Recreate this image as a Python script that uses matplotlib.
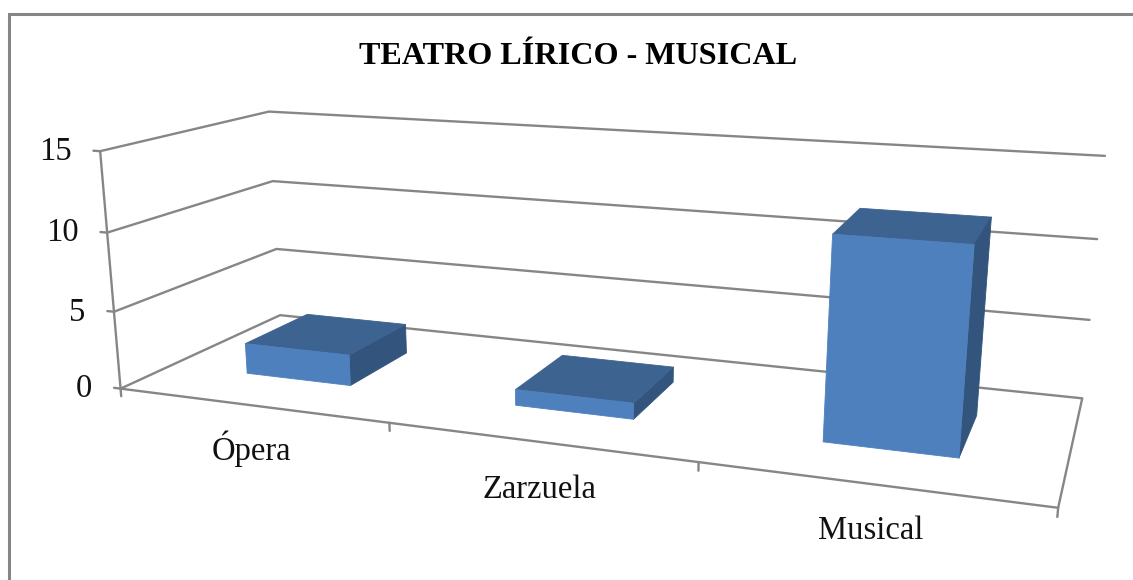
import numpy as np
import matplotlib
matplotlib.use("Agg")
import matplotlib.pyplot as plt
from mpl_toolkits.mplot3d import Axes3D  # noqa: F401

categories = ["Ópera", "Zarzuela", "Musical"]
values = [2, 1, 12]
yticks = [0, 5, 10, 15]
title = "TEATRO LÍRICO - MUSICAL"

W, PH = 1133, 580
GREY = "#868686"
FRONT, TOP, SIDE = "#4E80BD", "#3D6390", "#32547D"
plt.rcParams["font.family"] = ["Liberation Serif"]

# Camera: projective fit of (category axis, depth, value) to image position
world = np.array([
    (0, 0, 0), (0, 0, 5), (0, 0, 10), (0, 0, 15),
    (0, 1, 0), (0, 1, 5), (0, 1, 10), (0, 1, 15),
    (3, 1, 0), (3, 1, 5), (3, 1, 10), (3, 1, 15),
    (3, 0, 0)], float)
image = np.array([
    (120, 389), (114, 312), (108, 232), (100, 151),
    (280, 315), (277, 249), (273, 181), (268, 112),
    (1082, 398), (1090, 320), (1097, 239), (1105, 156),
    (1058, 508)], float)
rows, rhs = [], []
for (X, Y, Z), (u, v) in zip(world, image):
    rows.append([X, Y, Z, 1, 0, 0, 0, 0, -u*X, -u*Y, -u*Z]); rhs.append(u)
    rows.append([0, 0, 0, 0, X, Y, Z, 1, -v*X, -v*Y, -v*Z]); rhs.append(v)
H = np.append(np.linalg.lstsq(np.array(rows), np.array(rhs), rcond=None)[0], 1).reshape(3, 4)


def to_image(X, Y, Z):
    q = H @ [X, Y, Z, 1]
    return q[0] / q[2], q[1] / q[2]


fig = plt.figure(figsize=(W/100, PH/100), dpi=100, facecolor="white")
ax = fig.add_axes([0, 0, 1, 1], projection="3d", proj_type="ortho")
ax.set_axis_off()
ax.patch.set_alpha(0)
ax.computed_zorder = False
ax.apply_aspect = lambda position=None: None


def camera():
    to_display = np.array([[1, 0, 0], [0, -1, PH], [0, 0, 1]], float)
    to_data = ax.transData.inverted().get_matrix()
    P = to_data @ to_display @ H
    depth = np.array([0.0, 1.0, 0.0, 2.0])
    return np.vstack([P[0], P[1], depth, P[2]])


ax.get_proj = camera

line = dict(color=GREY, lw=1.7, solid_capstyle="round", zorder=1)
nx = len(categories)

# gridlines running along side wall and back wall
for t in yticks[1:]:
    ax.plot([0, 0, nx], [0, 1, 1], [t, t, t], **line)
# floor outline
ax.plot([0, 0, nx, nx, 0], [0, 1, 1, 0, 0], [0, 0, 0, 0, 0], **line)
# value axis and ticks
ax.plot([0, 0], [0, 0], [yticks[0], yticks[-1]], **line)
for t in yticks:
    ax.plot([-0.026, 0], [0, 0], [t, t], **line)
    u, v = to_image(0, 0, t)
    fig.text((u - 28.5)/W, 1 - (v + 0.5)/PH, str(t), ha="right", va="center",
             fontsize=23.5, color="#111111")
# category ticks
for i in range(nx + 1):
    ax.plot([i, i], [0, 0], [0, -0.5], **line)

# bars
half, near, far = 0.2, 0.295, 0.705
xs = np.arange(nx) + 0.5 - half
faces = ["none", TOP, FRONT, "none", "none", SIDE] * nx
ax.bar3d(xs, np.full(nx, near), np.zeros(nx), np.full(nx, 2*half),
         np.full(nx, far - near), values, color=faces, edgecolor=faces,
         shade=False, linewidth=0.6, zorder=2)

# category labels
label_px = [(251, 449), (539, 490), (871, 531)]
for s, (u, v) in zip(categories, label_px):
    fig.text(u/W, 1 - v/PH, s, ha="center", va="center", fontsize=23.5, color="#111111")

fig.text(578/W, 1 - 57/PH, title, ha="center", va="center", fontsize=23.1,
         fontweight="bold", color="black")

# outer chart frame, cut off by the image on the right and bottom
fig.add_artist(plt.Line2D([9/W, 9/W, 1], [0, 1 - 14/PH, 1 - 14/PH],
                          color=GREY, lw=2.2, solid_joinstyle="miter"))

fig.savefig("out.png", dpi=100)
